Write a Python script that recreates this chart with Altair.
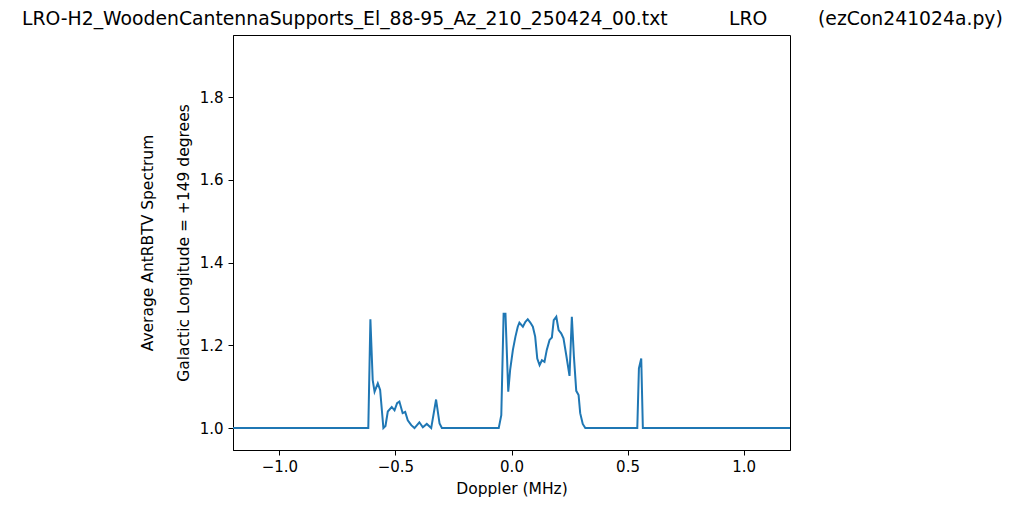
import altair as alt
import pandas as pd

doppler = [-1.2, -0.617, -0.608, -0.598, -0.59, -0.576, -0.566, -0.552, -0.543, -0.533,
           -0.516, -0.504, -0.493, -0.483, -0.469, -0.458, -0.447, -0.432, -0.418,
           -0.397, -0.382, -0.365, -0.346, -0.325, -0.31, -0.30,
           -0.055, -0.044, -0.034, -0.026, -0.014, -0.006, 0.006, 0.017, 0.027,
           0.034, 0.049, 0.06, 0.07, 0.081, 0.092, 0.102, 0.111, 0.121, 0.131,
           0.142, 0.152, 0.164, 0.174, 0.182, 0.193, 0.203, 0.214, 0.224, 0.236,
           0.25, 0.26, 0.269, 0.279, 0.289, 0.296, 0.307, 0.318,
           0.542, 0.549, 0.559, 0.566, 1.2]
spectrum = [1.0, 1.0, 1.263, 1.116, 1.088, 1.108, 1.092, 1.0, 1.005, 1.04,
            1.051, 1.043, 1.06, 1.064, 1.036, 1.039, 1.019, 1.007, 1.0,
            1.014, 1.002, 1.01, 1.0, 1.069, 1.011, 1.0,
            1.0, 1.031, 1.276, 1.276, 1.088, 1.14, 1.189, 1.221, 1.245,
            1.255, 1.245, 1.257, 1.263, 1.255, 1.245, 1.221, 1.168, 1.152, 1.164,
            1.16, 1.189, 1.213, 1.219, 1.261, 1.269, 1.237, 1.229, 1.217, 1.176,
            1.126, 1.269, 1.172, 1.09, 1.08, 1.036, 1.01, 1.0,
            1.0, 1.144, 1.168, 1.0, 1.0]

title_left = "LRO-H2_WoodenCantennaSupports_El_88-95_Az_210_250424_00.txt"
title_mid = "LRO"
title_right = "(ezCon241024a.py)"

df = pd.DataFrame({"doppler": doppler, "spectrum": spectrum})
FONT = "DejaVu Sans"

line = alt.Chart(df).mark_line(color="#1f77b4", strokeWidth=2, clip=True).encode(
    x=alt.X("doppler:Q", scale=alt.Scale(domain=[-1.2, 1.2], nice=False, zero=False),
            axis=alt.Axis(title="Doppler (MHz)", values=[-1.0, -0.5, 0.0, 0.5, 1.0],
                          format=".1f", grid=False, tickSize=5, labelPadding=4,
                          titlePadding=7)),
    y=alt.Y("spectrum:Q", scale=alt.Scale(domain=[0.947, 1.95], nice=False, zero=False),
            axis=alt.Axis(title=["Average AntRBTV Spectrum", "Galactic Longitude = +149 degrees"],
                          values=[1.0, 1.2, 1.4, 1.6, 1.8], format=".1f", grid=False,
                          tickSize=5, labelPadding=5, titlePadding=8, titleLineHeight=36)),
)

def title_text(txt, xpos):
    return alt.Chart(pd.DataFrame({"t": [txt]})).mark_text(
        align="left", baseline="alphabetic", font=FONT, fontSize=18.8, color="black"
    ).encode(text="t:N", x=alt.value(xpos), y=alt.value(-10.5))

chart = alt.layer(
    line,
    title_text(title_left, -211),
    title_text(title_mid, 496),
    title_text(title_right, 585),
).properties(
    width=557, height=415,
    autosize=alt.AutoSizeParams(type="none"),
    padding={"left": 225, "top": 27, "right": 226, "bottom": 51},
    background="white",
).configure_view(stroke="black", strokeWidth=1).configure_axis(
    labelFont=FONT, titleFont=FONT, labelFontSize=15, titleFontSize=15.5,
    labelColor="black", titleColor="black", domainColor="black", tickColor="black",
    titleFontWeight="normal",
)

chart.save("out.html", embed_options={"renderer": "svg", "actions": False})
